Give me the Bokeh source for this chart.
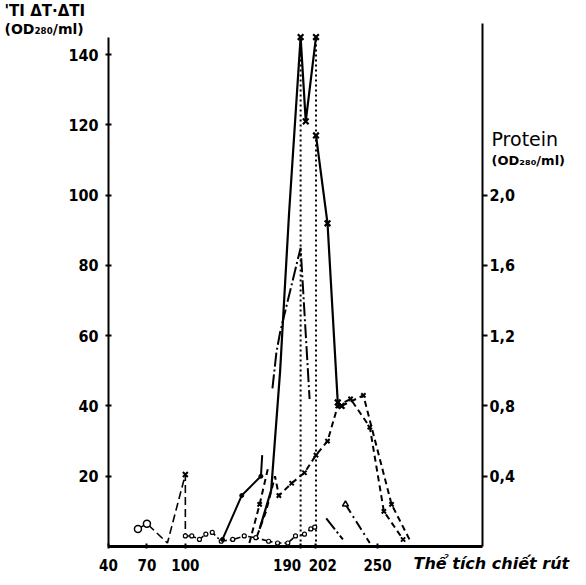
from bokeh.plotting import figure
from bokeh.models import Range1d, LinearAxis, FixedTicker, Label
from bokeh.embed import file_html
from bokeh.resources import INLINE

nan = float("nan")

# ---- axis ticks / labels ----
x_ticks = [40, 70, 100, 190, 202, 250]
x_tick_labels = ["40", "70", "100", "190", "202", "250"]
y_ticks = [20, 40, 60, 80, 100, 120, 140]
prot_ticks = [0.4, 0.8, 1.2, 1.6, 2.0]
prot_labels = ["0,4", "0,8", "1,2", "1,6", "2,0"]

# ---- series (elution volume, value) ----
circ_v = [63, 70, 86, 100, 100]
circ_y = [5, 6.5, 1, 20.5, 3]

base_v = [100, 105, 111, 116, 121, 128, 137, 146, 155, 165, 172, 180, 186, 193, 198, 201]
base_y = [3, 3, 2, 3.5, 4, 1.5, 2, 3, 2.5, 1.5, 1, 1, 3, 3.5, 5, 5.5]

prot_v = [129, 144, 159, 160]
prot_y = [2, 14.5, 20, 26]

dd_v = [168, 171, 174, 190, 197, nan, 210, 223]
dd_y = [45, 55, 61, 85, 42, nan, 8, 2]

dd2_v = [225, 244]
dd2_y = [12, 1]

main_v = [158, 167, 174, 181, 190, 194, 202, nan, 202, 211, 219, 222]
main_y = [5, 16, 50, 95, 145, 121, 145, nan, 117, 92, 41, 40]

e1_v = [150, 158, 165]
e1_y = [1, 12, 23]

e2_v = [156, 163, 170, 173, 183, 193, 202, 211, 219, 229, 244, 255, 270]
e2_y = [3, 10, 20, 14.5, 18, 21, 26, 30, 40, 42, 34, 10, 2]

e3_v = [222, 239, 261, 275]
e3_y = [40, 43, 12, 2]

drop_v = [190, 202]
drop_y = [145, 145]

FONT = "DejaVu Sans"
TICKFONT = "'DejaVu Sans Condensed', 'DejaVu Sans', sans-serif"

# geometry: frame covers the whole canvas, axes are fixed inside it
W, H = 570, 577
X0, X1 = 40, 332          # axis extent (elution volume)
Y1 = 150                  # top of the activity scale
PXX = 374 / (X1 - X0)     # pixels per x unit
PXY = 527 / Y1            # pixels per y unit
xr = Range1d(X0 - 108 / PXX, X1 + 88 / PXX)
yr = Range1d(-31 / PXY, Y1 + 19 / PXY)

p = figure(width=W, height=H, output_backend="svg", toolbar_location=None,
           x_range=xr, y_range=yr, x_axis_location=None, y_axis_location=None,
           min_border=0)
p.min_border_left = p.min_border_right = p.min_border_top = p.min_border_bottom = 0
p.outline_line_color = None
p.xgrid.visible = False
p.ygrid.visible = False
p.background_fill_color = "white"
p.border_fill_color = "white"

# the hand-drawn original spreads the "190" / "202" labels apart; pad them to mimic that
x_overrides = dict(zip(x_ticks, x_tick_labels))
x_overrides[190] = x_overrides[190] + "\u2003\u2003"
x_overrides[202] = "\u2003" + x_overrides[202]

xax = LinearAxis(ticker=FixedTicker(ticks=x_ticks), fixed_location=0, bounds=(X0, X1),
                 major_label_overrides=x_overrides)
xax.axis_line_width = 3
xax.major_tick_in = 3
xax.major_tick_out = 2
xax.major_label_standoff = 8
p.add_layout(xax, "below")

yax = LinearAxis(ticker=FixedTicker(ticks=y_ticks), fixed_location=X0, bounds=(0, 145))
yax.axis_line_width = 2
yax.major_tick_in = 3
yax.major_tick_out = 3
yax.major_label_standoff = 7
p.add_layout(yax, "left")

p.extra_y_ranges = {"prot": Range1d(yr.start / 50, yr.end / 50)}
right = LinearAxis(y_range_name="prot", ticker=FixedTicker(ticks=prot_ticks),
                   fixed_location=X1, bounds=(0, 2.98),
                   major_label_overrides=dict(zip(prot_ticks, prot_labels)))
right.axis_line_width = 2
right.major_tick_in = 0
right.major_tick_out = 5
right.major_label_standoff = 2
p.add_layout(right, "right")

for ax in [xax, yax, right]:
    ax.minor_tick_line_color = None
    ax.major_label_text_font = TICKFONT
    ax.major_label_text_font_style = "bold"
    ax.major_label_text_font_size = "16px"
    ax.major_label_text_color = "black"
    ax.axis_line_color = "black"
    ax.major_tick_line_color = "black"
    ax.major_tick_line_width = 2
xax.major_label_text_font_size = "15px"

# ---- series drawing ----
p.segment(x0=drop_v, y0=[0, 0], x1=drop_v, y1=drop_y, line_color="black",
          line_width=2, line_dash="2 3")

p.line(circ_v, circ_y, line_color="black", line_width=1.6, line_dash="8 4")
p.scatter(circ_v[:2], circ_y[:2], marker="circle", size=7, fill_color="white",
          line_color="black", line_width=1.5)
p.scatter([circ_v[3]], [circ_y[3]], marker="x", size=7, line_color="black", line_width=2)

p.line(base_v, base_y, line_color="black", line_width=1.6, line_dash="6 3 2 3")
p.scatter(base_v, base_y, marker="circle", size=4, fill_color="white",
          line_color="black", line_width=1.2)

p.line(prot_v, prot_y, line_color="black", line_width=2)
p.scatter(prot_v[:3], prot_y[:3], marker="circle", size=4, fill_color="black",
          line_color="black")

p.line(dd_v, dd_y, line_color="black", line_width=2, line_dash="14 3 2 3")
p.line(dd2_v, dd2_y, line_color="black", line_width=2, line_dash="10 4 2 4")
p.scatter([dd2_v[0]], [dd2_y[0]], marker="triangle", size=6, fill_color="white",
          line_color="black", line_width=1.5)

p.line(main_v, main_y, line_color="black", line_width=2.2)
p.scatter(main_v[4:], main_y[4:], marker="x", size=8, line_color="black", line_width=2.2)

p.line(e1_v, e1_y, line_color="black", line_width=2, line_dash="6 4")
p.scatter([e1_v[1]], [e1_y[1]], marker="x", size=6, line_color="black", line_width=2)

p.line(e2_v, e2_y, line_color="black", line_width=2, line_dash="6 4")
p.scatter(e2_v[3:], e2_y[3:], marker="x", size=6, line_color="black", line_width=2)

p.line(e3_v, e3_y, line_color="black", line_width=2, line_dash="6 4")
p.scatter(e3_v[:3], e3_y[:3], marker="x", size=6, line_color="black", line_width=2)

# ---- axis titles (placed by pixel offsets converted to data units) ----
def lab(px, py, t, size="14px", style="bold"):
    # px, py: canvas pixels from top-left
    x = xr.start + px / PXX
    y = yr.end - py / PXY
    p.add_layout(Label(x=x, y=y, text=t, text_font=FONT, text_font_size=size,
                       text_font_style=style, text_align="left", text_baseline="top",
                       text_color="black"))

lab(4, 1, "'TI  ΔT·ΔTI", size="15px")
lab(4, 20, "(OD₂₈₀/ml)", size="14px")
lab(491, 127, "Protein", size="19px", style="normal")
lab(491, 152, "(OD₂₈₀/ml)", size="13px")
lab(413, 553, "Thể tích chiết rút", size="16px", style="bold italic")

open("out.html", "w").write(file_html(p, INLINE))
